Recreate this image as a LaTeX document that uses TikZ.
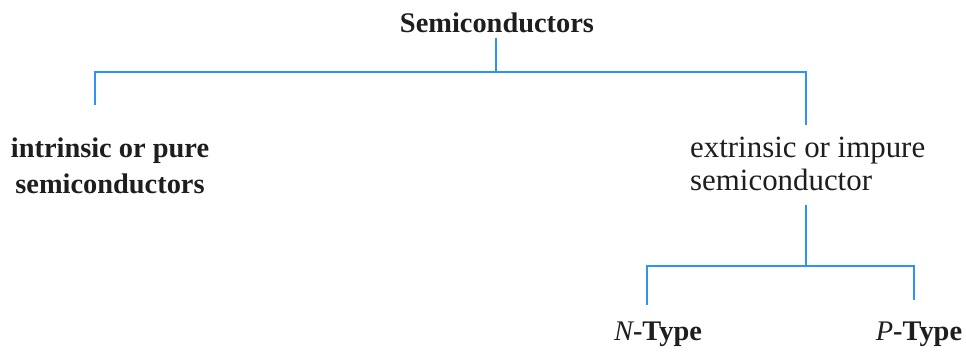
\documentclass[tikz,border=0pt]{standalone}
\usepackage{fontspec}
\setmainfont{Liberation Serif}
\definecolor{branch}{RGB}{45,146,250}
\definecolor{ink}{RGB}{30,30,30}
\begin{document}
\begin{tikzpicture}[x=1bp,y=-1bp,
  link/.style={draw=branch,line width=1.6bp},
  boldlabel/.style={font=\fontsize{28.5}{36}\selectfont\bfseries,inner sep=0,text=ink},
  plainlabel/.style={font=\fontsize{31}{33}\selectfont,inner sep=0,text=ink}]
\useasboundingbox (0,0) rectangle (966,352);

% labels (multi-line nodes are anchored on their last baseline)
\node[boldlabel,anchor=base] (root) at (497,32) {Semiconductors};
\node[boldlabel,align=center,anchor=base] (intr) at (110,193) {intrinsic or pure\\semiconductors};
\node[plainlabel,align=left,anchor=base west] (extr) at (690,190) {extrinsic or impure\\semiconductor};
\node[boldlabel,anchor=base] (ntype) at (658,340) {{\normalfont\itshape N}-Type};
\node[boldlabel,anchor=base] (ptype) at (919,340) {{\normalfont\itshape P}-Type};

% junctions and branch ends
\coordinate (rootfoot) at (496,38);
\coordinate (j1) at (496,72);
\coordinate (lend) at (95,105);
\coordinate (rend) at (806,125);
\coordinate (extrfoot) at (806,205);
\coordinate (j2) at (806,266);
\coordinate (nend) at (647,305);
\coordinate (pend) at (914,300);

% first level
\draw[link] (rootfoot) -- (j1);
\draw[link] (j1) -| (lend);
\draw[link] (j1) -| (rend);

% second level
\draw[link] (extrfoot) -- (j2);
\draw[link] (j2) -| (nend);
\draw[link] (j2) -| (pend);
\end{tikzpicture}
\end{document}
